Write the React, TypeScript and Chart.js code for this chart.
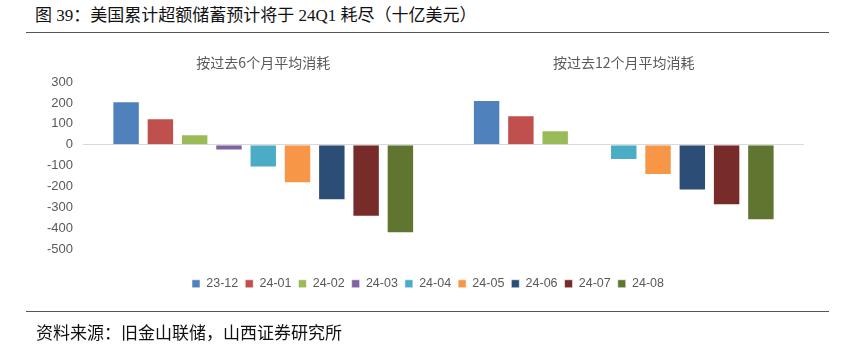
import React, { useEffect, useRef } from "react";
import { Chart, registerables } from "chart.js";

Chart.register(...registerables);

const categories = ["按过去6个月平均消耗", "按过去12个月平均消耗"];
const seriesNames = ["23-12", "24-01", "24-02", "24-03", "24-04", "24-05", "24-06", "24-07", "24-08"];
const v2312 = [208, 214];
const v2401 = [127, 141];
const v2402 = [51, 70];
const v2403 = [-27, null];
const v2404 = [-108, -73];
const v2405 = [-184, -144];
const v2406 = [-265, -218];
const v2407 = [-343, -289];
const v2408 = [-422, -360];
const seriesColors = ["#4F81BD", "#C0504D", "#9BBB59", "#8064A2", "#4BACC6", "#F79646", "#2C4D75", "#772C2A", "#5F7530"];
const yMin = -500;
const yMax = 300;
const yStep = 100;

const titleText = "图 39：美国累计超额储蓄预计将于 24Q1 耗尽（十亿美元）";
const sourceText = "资料来源：旧金山联储，山西证券研究所";

export default function App() {
  const ref = useRef<HTMLCanvasElement>(null);

  useEffect(() => {
    if (!ref.current) return;
    const values = [v2312, v2401, v2402, v2403, v2404, v2405, v2406, v2407, v2408];
    const chart = new Chart(ref.current, {
      type: "bar",
      data: {
        labels: categories,
        datasets: seriesNames.map((name, i) => ({
          label: name,
          data: values[i],
          backgroundColor: seriesColors[i],
          borderColor: "rgba(255,255,255,0.55)",
          borderWidth: 1,
          categoryPercentage: 0.856,
          barPercentage: 0.8,
        })),
      },
      options: {
        responsive: false,
        animation: false,
        layout: { padding: { left: 40, right: 25, top: 42, bottom: 52 } },
        plugins: {
          tooltip: { enabled: false },
          legend: {
            position: "bottom",
            labels: {
              boxWidth: 8,
              boxHeight: 8,
              padding: 7,
              color: "#595959",
              font: { size: 12.5, family: "'Liberation Sans', Arial, sans-serif" },
            },
          },
        },
        scales: {
          x: {
            position: "top",
            grid: { display: false, drawTicks: false },
            border: { display: false },
            ticks: {
              color: "#595959",
              padding: 11,
              font: { size: 14, family: "'Noto Sans CJK SC', sans-serif" },
            },
            afterFit: (s: any) => {
              s.height = 40;
            },
          },
          x2: {
            type: "category",
            position: "bottom",
            display: true,
            grid: { display: false, drawTicks: false },
            border: { display: false },
            ticks: { display: false },
            afterFit: (s: any) => {
              s.height = 21;
            },
          },
          y: {
            min: yMin,
            max: yMax,
            ticks: {
              stepSize: yStep,
              color: "#595959",
              padding: 10,
              font: { size: 13, family: "'Liberation Sans', Arial, sans-serif" },
            },
            grid: {
              drawTicks: false,
              color: (ctx: any) => (ctx.tick && ctx.tick.value === 0 ? "#d9d9d9" : "rgba(0,0,0,0)"),
              lineWidth: 1,
            },
            border: { display: false },
            afterFit: (s: any) => {
              s.width = 43;
            },
          },
          y2: {
            type: "linear",
            position: "right",
            display: true,
            grid: { display: false, drawTicks: false },
            border: { display: false },
            ticks: { display: false },
            afterFit: (s: any) => {
              s.width = 12;
            },
          },
        },
      } as any,
    });
    return () => chart.destroy();
  }, []);

  return (
    <div style={{ position: "fixed", left: 0, top: 0, width: 841, height: 352, background: "#fff", overflow: "hidden" }}>
      <div
        style={{
          position: "absolute",
          left: 35,
          top: 5,
          fontSize: 17,
          lineHeight: "22px",
          whiteSpace: "nowrap",
          color: "#111",
          fontFamily: "'Liberation Serif', 'Noto Sans CJK SC', serif",
        }}
      >
        {titleText}
      </div>
      <div style={{ position: "absolute", left: 26, top: 32, width: 803, height: 0, borderTop: "1.5px solid #555" }} />
      <canvas ref={ref} width={841} height={352} style={{ position: "absolute", left: 0, top: 0, width: 841, height: 352 }} />
      <div style={{ position: "absolute", left: 26, top: 311, width: 803, height: 0, borderTop: "1.5px solid #555" }} />
      <div
        style={{
          position: "absolute",
          left: 36,
          top: 321,
          fontSize: 17,
          lineHeight: "22px",
          whiteSpace: "nowrap",
          color: "#111",
          fontFamily: "'Noto Sans CJK SC', sans-serif",
        }}
      >
        {sourceText}
      </div>
    </div>
  );
}
